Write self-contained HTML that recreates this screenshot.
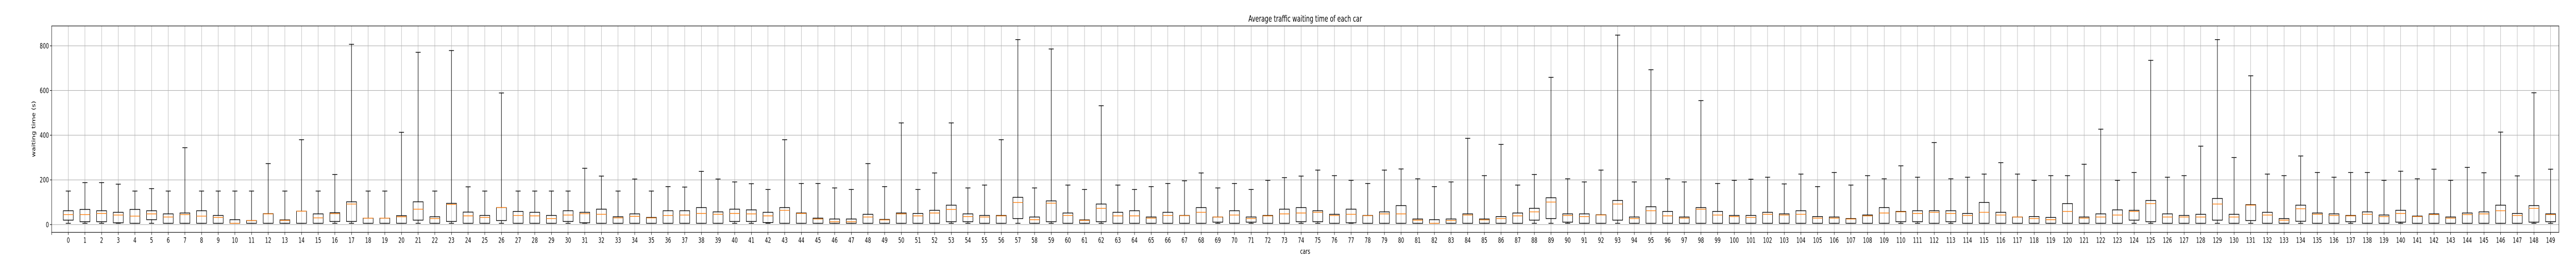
<!DOCTYPE html>
<html><head><meta charset="utf-8"><style>
html,body{margin:0;padding:0;background:#fff;width:100%;height:100%;overflow:hidden;}
svg{display:block;width:100vw;height:100vh;font-family:"DejaVu Sans","Liberation Sans",sans-serif;}
</style></head><body>
<svg id="chart" viewBox="0 0 7500 500" preserveAspectRatio="none" xmlns="http://www.w3.org/2000/svg">
<rect x="0" y="0" width="7500" height="500" fill="#fff"/>
<text x="3800" y="42" text-anchor="middle" font-size="16.7" fill="#000">Average traffic waiting time of each car</text>
<text x="3800" y="492" text-anchor="middle" font-size="13.9" fill="#000">cars</text>
<text transform="translate(103,250) rotate(-90)" text-anchor="middle" font-size="13.9" fill="#000">waiting time (s)</text>
<g id="grid"></g><g id="boxes"></g><g id="axes"></g>
</svg>
<script>
const hiWhisker = [150,188,188,181,150,161,150,344,150,150,150,
150,273,150,380,150,224,807,150,150,413,771,150,779,169,150,589,
150,150,150,150,252,217,150,204,150,170,168,238,204,191,183,157,
380,184,184,164,157,273,170,455,157,231,455,164,177,380,828,164,
786,177,157,532,177,157,170,184,196,231,164,184,157,198,210,217,
244,219,198,184,244,249,205,170,191,386,219,359,177,224,659,205,
191,244,848,191,693,205,191,555,184,198,203,212,182,226,170,233,
177,219,205,263,212,367,205,212,226,277,226,198,219,219,270,427,
198,233,735,212,219,351,828,300,666,226,219,307,233,212,233,233,
198,239,205,248,198,256,232,414,218,590,248];
const q3Values = [62,68,62,55,68,62,48,52,62,41,22,
18,49,21,60,48,53,102,29,29,40,102,35,95,56,41,76,
59,55,41,62,55,69,35,48,32,62,62,76,57,69,66,55,
76,52,29,25,25,46,23,52,50,64,87,48,41,41,122,34,
106,52,21,92,55,62,34,55,41,76,34,62,34,41,69,76,
62,46,69,41,57,85,25,22,25,48,25,36,52,73,120,48,
48,44,108,34,80,59,34,76,59,41,41,55,48,62,36,34,
27,43,76,59,62,62,62,50,99,55,34,36,32,94,34,48,
66,64,108,48,41,46,117,46,89,55,27,87,52,48,41,57,
43,64,38,48,34,52,57,87,50,85,48];
const medianValues = [45,45,50,43,38,48,34,45,38,32,6,
18,48,19,60,30,49,92,29,29,35,69,27,90,39,32,76,
41,39,27,43,49,46,30,37,30,41,43,50,46,50,48,39,
64,50,25,13,13,34,21,48,39,52,68,36,34,39,99,22,
96,41,19,73,39,39,29,41,40,55,34,43,27,39,48,52,
55,41,46,40,48,48,20,6,18,43,21,27,39,57,101,41,
36,43,92,27,62,39,29,69,43,36,32,46,43,46,29,29,
25,39,52,57,50,55,50,41,55,43,34,27,22,59,29,34,
43,59,94,34,34,34,92,34,87,43,20,71,46,41,39,46,
36,50,36,45,29,45,48,62,41,73,45];
const q1Values = [20,13,13,8,6,22,6,6,6,6,6,
6,6,6,6,6,14,14,6,6,6,20,6,14,6,6,18,
6,6,6,14,8,6,6,6,6,6,6,6,6,14,14,9,
6,6,6,6,6,6,6,6,6,6,13,13,6,6,27,6,
13,6,6,13,6,6,6,6,6,6,11,6,11,6,6,13,
13,6,8,6,6,6,6,6,6,6,6,6,6,20,27,11,
6,6,20,6,6,6,6,6,6,6,6,6,6,6,6,6,
6,6,6,13,13,6,13,6,6,6,6,6,6,6,6,6,
6,20,13,6,6,6,20,6,18,6,6,15,6,6,13,6,
6,11,6,6,6,6,6,6,6,11,13];
const loWhisker = [6,6,6,6,6,6,6,6,6,6,6,
6,6,6,6,6,6,6,6,6,6,6,6,6,6,6,6,
6,6,6,6,6,6,6,6,6,6,6,6,6,6,6,6,
6,6,6,6,6,6,6,6,6,6,6,6,6,6,6,6,
6,6,6,6,6,6,6,6,6,6,6,6,6,6,6,6,
6,6,6,6,6,6,6,6,6,6,6,6,6,6,6,6,
6,6,6,6,6,6,6,6,6,6,6,6,6,6,6,6,
6,6,6,6,6,6,6,6,6,6,6,6,6,6,6,6,
6,6,6,6,6,6,6,6,6,6,6,6,6,6,6,6,
6,6,6,6,6,6,6,6,6,6,6];
const yTicks = [0,200,400,600,800];

const NS = "http://www.w3.org/2000/svg";
const L = 150.3, R = 7450.3, T = 50.3, B = 450.3;
const xMin = -1, xMax = 149.5, yMin = -34.7, yMax = 889;
function xs(v){ return L + (v - xMin) / (xMax - xMin) * (R - L); }
function ys(v){ return B - (v - yMin) / (yMax - yMin) * (B - T); }
function mk(tag, attrs, parent){
  const e = document.createElementNS(NS, tag);
  for (const k in attrs) e.setAttribute(k, attrs[k]);
  parent.appendChild(e); return e;
}
const grid = document.getElementById('grid');
const boxes = document.getElementById('boxes');
const axes = document.getElementById('axes');

yTicks.forEach(v => {
  const y = ys(v);
  const g = mk('line', {x1:L, x2:R, y1:y, y2:y, stroke:'#b0b0b0', 'stroke-width':1.1}, grid);
  
  
  const t = mk('line', {x1:L-4.9, x2:L, y1:y, y2:y, stroke:'#000', 'stroke-width':1.1}, axes);
  
  
  const lb = mk('text', {x:L-8, y:y+5, 'text-anchor':'end', 'font-size':13.9, fill:'#000'}, axes);
  lb.textContent = String(v);
  
  
});
const t0 = mk('line', {x1:L, x2:L, y1:B, y2:B+4.9, stroke:'#000', 'stroke-width':1.1}, axes);



const boxW = 0.6, capW = 0.3;
for (let i = 0; i < hiWhisker.length; i++) {
  const cx = xs(i);
  const g = mk('line', {x1:cx, x2:cx, y1:T, y2:B, stroke:'#b0b0b0', 'stroke-width':1.1}, grid);
  
  
  const tk = mk('line', {x1:cx, x2:cx, y1:B, y2:B+4.9, stroke:'#000', 'stroke-width':1.1}, axes);
  
  
  const lb = mk('text', {x:cx, y:B+20, 'text-anchor':'middle', 'font-size':13.9, fill:'#000'}, axes);
  lb.textContent = String(i);
  
  

  const grp = mk('g', {}, boxes);
  
  
  const bx0 = xs(i - boxW/2), bx1 = xs(i + boxW/2);
  const cx0 = xs(i - capW/2), cx1 = xs(i + capW/2);
  const yq1 = ys(q1Values[i]), yq3 = ys(q3Values[i]);
  const wU = mk('line', {x1:cx, x2:cx, y1:yq3, y2:ys(hiWhisker[i]), stroke:'#000', 'stroke-width':1.4}, grp);
  
  
  const wL = mk('line', {x1:cx, x2:cx, y1:yq1, y2:ys(loWhisker[i]), stroke:'#000', 'stroke-width':1.4}, grp);
  
  
  const cU = mk('line', {x1:cx0, x2:cx1, y1:ys(hiWhisker[i]), y2:ys(hiWhisker[i]), stroke:'#000', 'stroke-width':1.4}, grp);
  
  
  const cL = mk('line', {x1:cx0, x2:cx1, y1:ys(loWhisker[i]), y2:ys(loWhisker[i]), stroke:'#000', 'stroke-width':1.4}, grp);
  
  
  const rb = mk('rect', {x:bx0, y:yq3, width:bx1-bx0, height:Math.max(0.5, yq1-yq3), fill:'none', stroke:'#000', 'stroke-width':1.4}, grp);
  
  
  const ym = ys(medianValues[i]);
  const md = mk('line', {x1:bx0, x2:bx1, y1:ym, y2:ym, stroke:'#ff7f0e', 'stroke-width':1.4}, grp);
  
  
}
const frame = mk('rect', {x:L, y:T, width:R-L, height:B-T, fill:'none', stroke:'#000', 'stroke-width':1.1}, axes);


</script>
</body></html>
